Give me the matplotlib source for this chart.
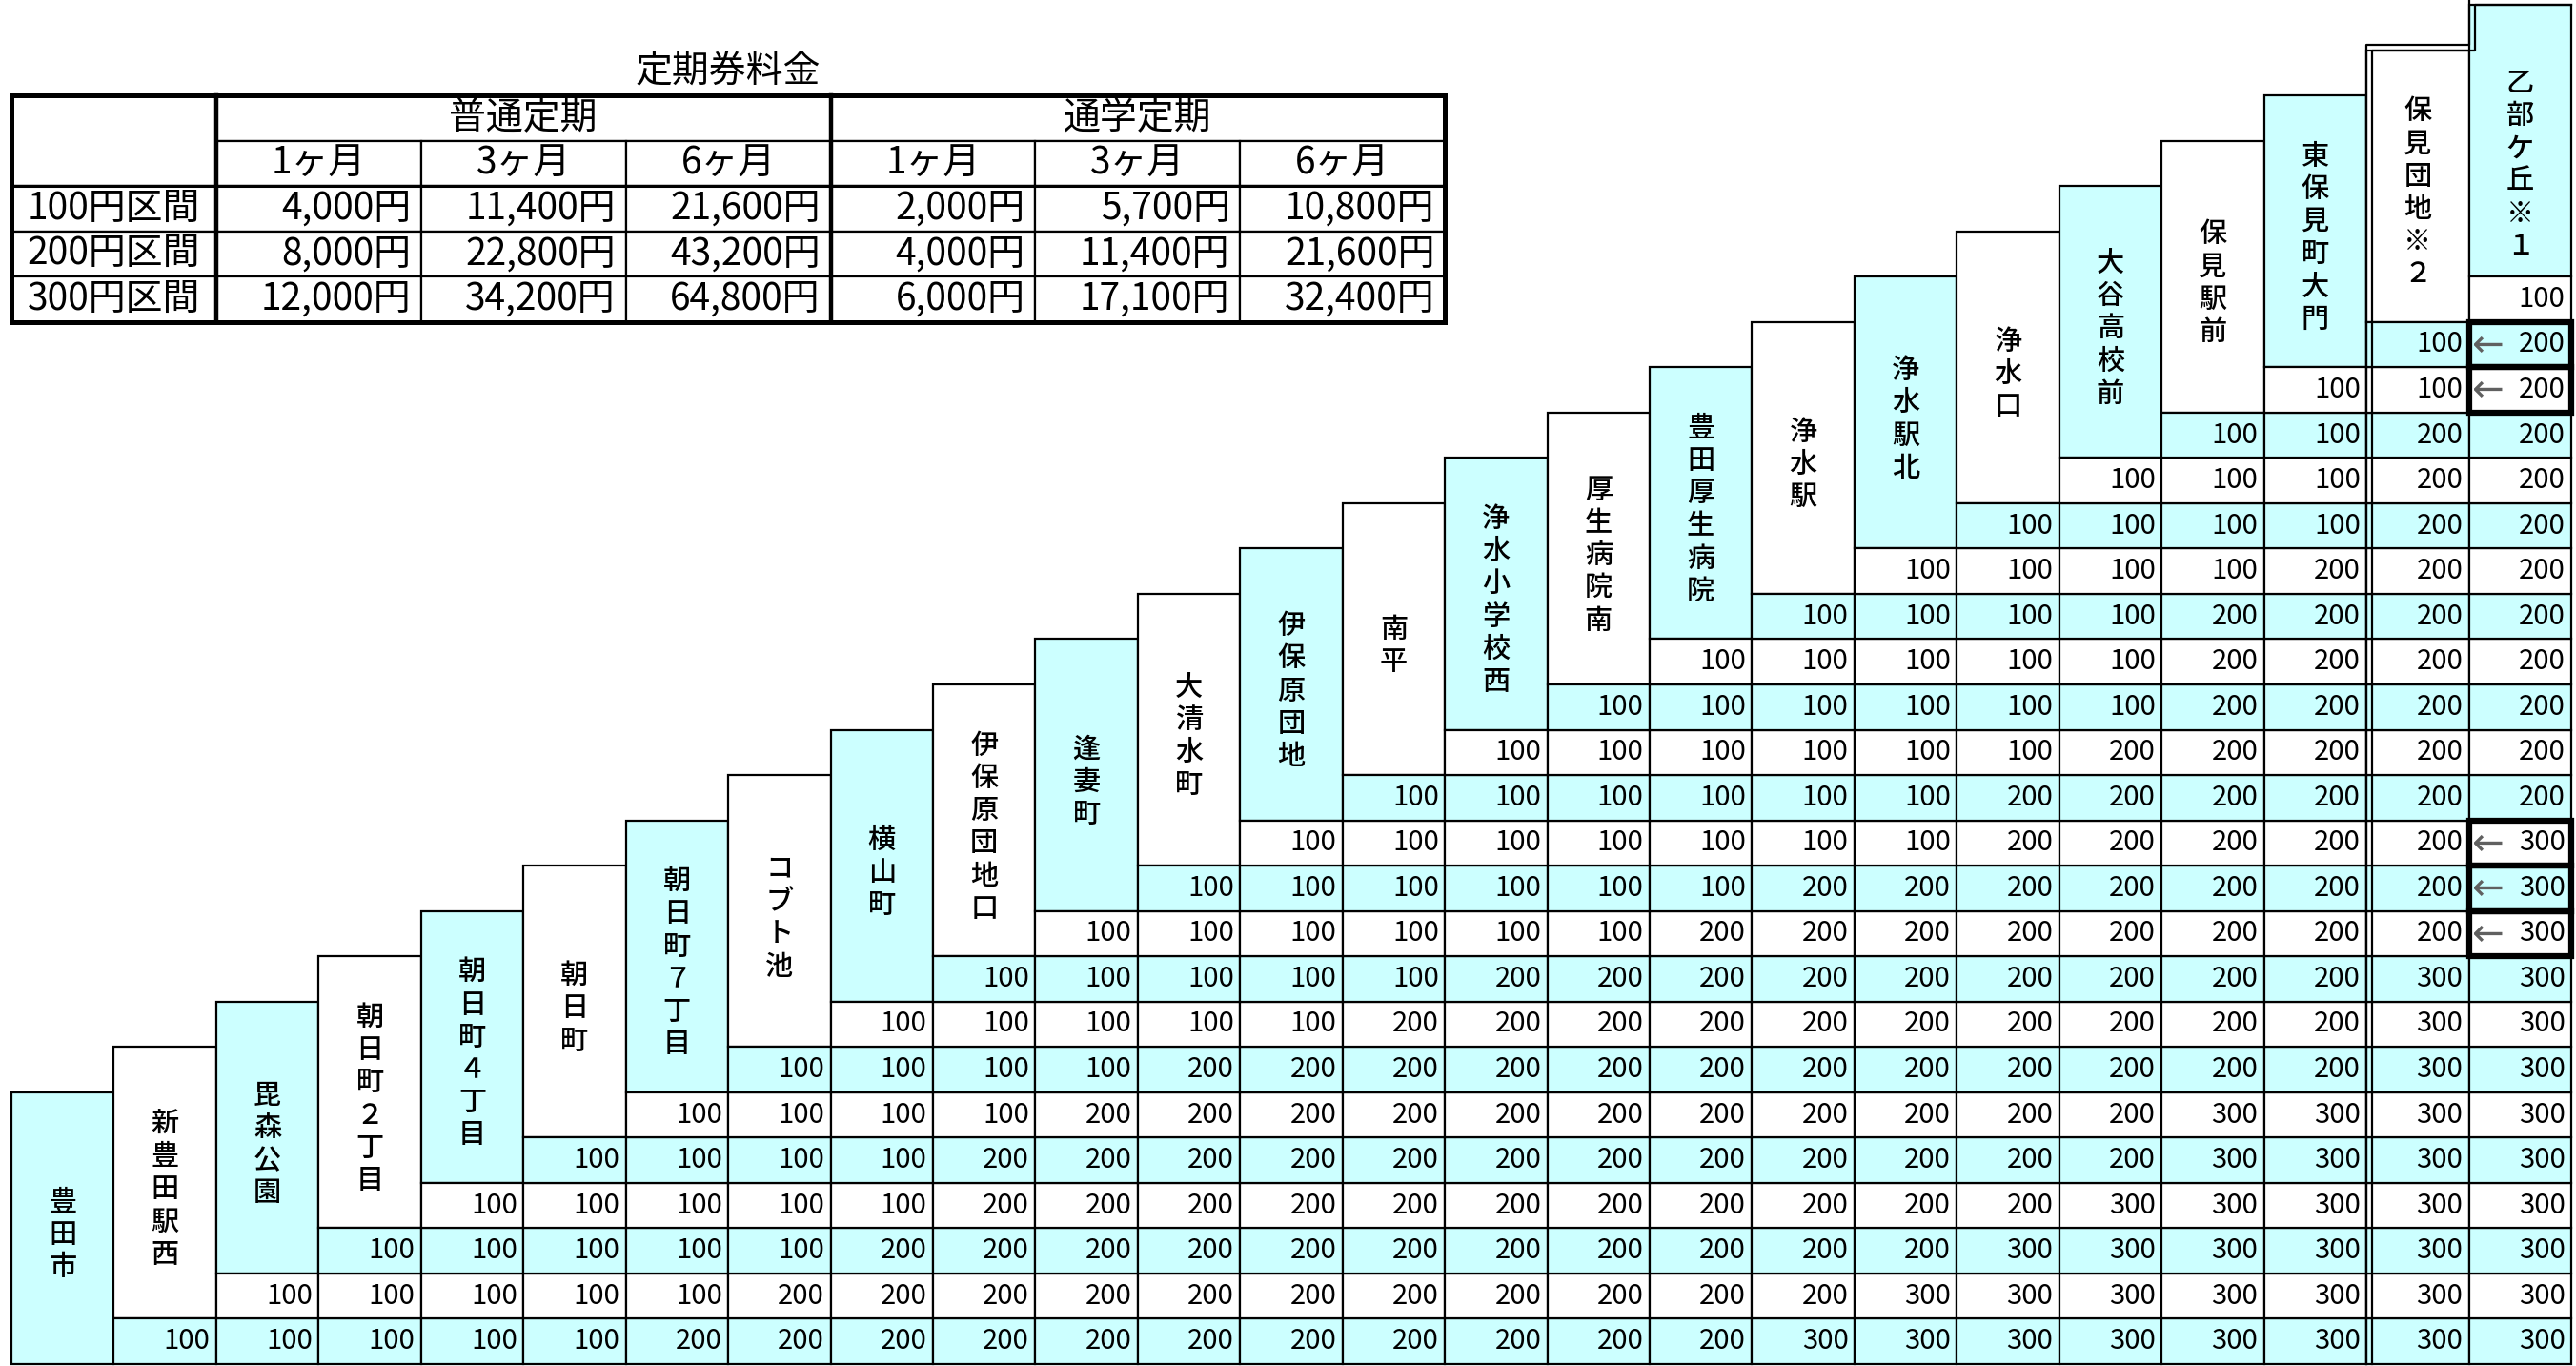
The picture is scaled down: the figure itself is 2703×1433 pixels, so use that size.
import matplotlib.pyplot as plt
from matplotlib.patches import Rectangle

plt.rcParams['font.family'] = ['Noto Sans CJK JP', 'DejaVu Sans']

# 停留所 (左から順に)
stations = ["豊田市", "新豊田駅西", "毘森公園", "朝日町２丁目", "朝日町４丁目", "朝日町",
            "朝日町７丁目", "コブト池", "横山町", "伊保原団地口", "逢妻町", "大清水町",
            "伊保原団地", "南平", "浄水小学校西", "厚生病院南", "豊田厚生病院", "浄水駅",
            "浄水駅北", "浄水口", "大谷高校前", "保見駅前", "東保見町大門", "保見団地※２",
            "乙部ケ丘※１"]

# fares[r] = 運賃 stations[r] -> stations[r+1], stations[r+2], ...
fares = [
    [100, 100, 100, 100, 100, 200, 200, 200, 200, 200, 200, 200, 200, 200, 200, 200, 300, 300, 300, 300, 300, 300, 300, 300],
    [100, 100, 100, 100, 100, 200, 200, 200, 200, 200, 200, 200, 200, 200, 200, 200, 300, 300, 300, 300, 300, 300, 300],
    [100, 100, 100, 100, 100, 200, 200, 200, 200, 200, 200, 200, 200, 200, 200, 200, 300, 300, 300, 300, 300, 300],
    [100, 100, 100, 100, 100, 200, 200, 200, 200, 200, 200, 200, 200, 200, 200, 200, 300, 300, 300, 300, 300],
    [100, 100, 100, 100, 200, 200, 200, 200, 200, 200, 200, 200, 200, 200, 200, 200, 300, 300, 300, 300],
    [100, 100, 100, 100, 200, 200, 200, 200, 200, 200, 200, 200, 200, 200, 200, 300, 300, 300, 300],
    [100, 100, 100, 100, 200, 200, 200, 200, 200, 200, 200, 200, 200, 200, 200, 200, 300, 300],
    [100, 100, 100, 100, 100, 200, 200, 200, 200, 200, 200, 200, 200, 200, 200, 300, 300],
    [100, 100, 100, 100, 100, 200, 200, 200, 200, 200, 200, 200, 200, 200, 300, 300],
    [100, 100, 100, 100, 100, 100, 200, 200, 200, 200, 200, 200, 200, 200, 300],
    [100, 100, 100, 100, 100, 100, 200, 200, 200, 200, 200, 200, 200, 300],
    [100, 100, 100, 100, 100, 100, 100, 200, 200, 200, 200, 200, 300],
    [100, 100, 100, 100, 100, 100, 200, 200, 200, 200, 200, 200],
    [100, 100, 100, 100, 100, 100, 200, 200, 200, 200, 200],
    [100, 100, 100, 100, 100, 100, 200, 200, 200, 200],
    [100, 100, 100, 100, 100, 200, 200, 200, 200],
    [100, 100, 100, 100, 200, 200, 200, 200],
    [100, 100, 100, 100, 200, 200, 200],
    [100, 100, 100, 100, 200, 200],
    [100, 100, 100, 200, 200],
    [100, 100, 200, 200],
    [100, 100, 200],
    [100, 200],
    [100],
]

# 乙部ケ丘の列で「←」と太枠が付く行
arrow_rows = [9, 10, 11, 21, 22]

# 定期券料金
pass_groups = ["普通定期", "通学定期"]
pass_months = ["1ヶ月", "3ヶ月", "6ヶ月"]
pass_zones = ["100円区間", "200円区間", "300円区間"]
pass_regular = [[4000, 11400, 21600],
                [8000, 22800, 43200],
                [12000, 34200, 64800]]
pass_student = [[2000, 5700, 10800],
                [4000, 11400, 21600],
                [6000, 17100, 32400]]

CYAN = "#ccffff"
LW = 1.6

fig = plt.figure(figsize=(27.03, 14.33), dpi=100)
ax = fig.add_axes([12 / 2703, 2 / 1433, 2686 / 2703, 1426 / 1433])
ax.set_xlim(0, 25)
ax.set_ylim(0, 30)
ax.axis("off")


def box(x, y, w, h, fc="white", lw=LW, z=1):
    ax.add_patch(Rectangle((x, y), w, h, facecolor=fc, edgecolor="black",
                           lw=lw, zorder=z, clip_on=False))


# 停留所名 (縦書き)
pitch = 0.72
last = len(stations) - 1
for j, name in enumerate(stations):
    box(j, j, 1, 6, CYAN if j % 2 == 0 else "white")
    yc = j + 3 - 0.15
    if j == last:
        yc -= 0.38
    n = len(name)
    for k, ch in enumerate(name):
        ax.text(j + 0.5, yc + (n - 1) / 2 * pitch - k * pitch, ch,
                ha="center", va="center", fontsize=21, fontweight="medium",
                zorder=5)

# 運賃表
for r, row in enumerate(fares):
    fc = CYAN if r % 2 == 0 else "white"
    for k, v in enumerate(row):
        c = r + 1 + k
        box(c, r, 1, 1, fc)
        ax.text(c + 1 - 0.06, r + 0.5, str(v), ha="right", va="center",
                fontsize=21, zorder=5)

for r in arrow_rows:
    ax.add_patch(Rectangle((last, r), 1, 1, fill=False, edgecolor="black",
                           lw=4.5, zorder=6, clip_on=False))
    ax.text(last + 0.03, r + 0.47, "←", ha="left", va="center", fontsize=29,
            family="DejaVu Sans", color="#606060", zorder=7)

# 保見団地・乙部ケ丘の二重線
dh, dv = 0.056, 0.126
ax.plot([23, 23, 24, 24], [0, 29 + dv, 29 + dv, 30 + dv], color="black",
        lw=LW, zorder=6, clip_on=False)
ax.plot([23 + dh, 23 + dh, 24 + dh, 24 + dh, 25], [0, 29, 29, 30, 30],
        color="black", lw=LW, zorder=6, clip_on=False)

# 定期券料金表
ax.text(7, 28.55, "定期券料金", ha="center", va="center", fontsize=28)
box(0, 26, 2, 2)
for g, gname in enumerate(pass_groups):
    x0 = 2 + 6 * g
    box(x0, 27, 6, 1)
    ax.text(x0 + 3, 27.5, gname, ha="center", va="center", fontsize=28, zorder=5)
    for m, mon in enumerate(pass_months):
        box(x0 + 2 * m, 26, 2, 1)
        ax.text(x0 + 2 * m + 1, 26.5, mon, ha="center", va="center",
                fontsize=28, zorder=5)

for i, zone in enumerate(pass_zones):
    y = 25 - i
    box(0, y, 2, 1)
    ax.text(1, y + 0.5, zone, ha="center", va="center", fontsize=28, zorder=5)
    for g, vals in enumerate([pass_regular, pass_student]):
        for m in range(3):
            x = 2 + 6 * g + 2 * m
            box(x, y, 2, 1)
            ax.text(x + 2 - 0.1, y + 0.5, f"{vals[i][m]:,}円", ha="right",
                    va="center", fontsize=28, zorder=5)

ax.add_patch(Rectangle((0, 23), 14, 5, fill=False, edgecolor="black", lw=3.6,
                       zorder=6, clip_on=False))
ax.plot([2, 2], [23, 28], color="black", lw=3.2, zorder=6)
ax.plot([8, 8], [23, 28], color="black", lw=3.2, zorder=6)
ax.plot([0, 14], [26, 26], color="black", lw=2.2, zorder=6)

fig.savefig("out.png", dpi=100)
